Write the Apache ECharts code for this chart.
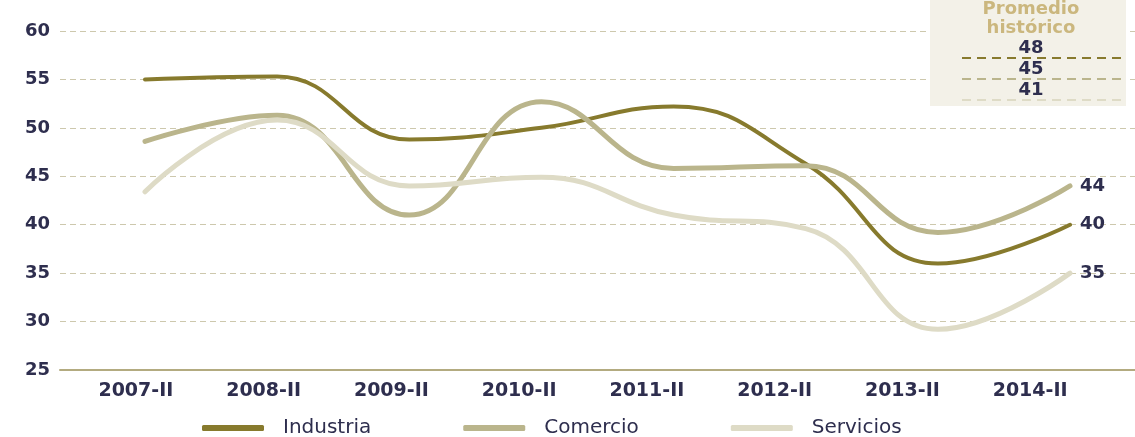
<!DOCTYPE html>
<html>
<head>
<meta charset="utf-8">
<script src="https://cdn.jsdelivr.net/npm/echarts@6/dist/echarts.min.js"></script>
<style>
  html, body { margin: 0; padding: 0; background: #fff; }
  #main { width: 1135px; height: 437px; }
</style>
</head>
<body>
<div id="main"></div>
<script>
// etiquetas del eje x
var periodos = ['2007-II', '2008-II', '2009-II', '2010-II', '2011-II', '2012-II', '2013-II', '2014-II'];
var industria = [55.0, 55.3, 48.8, 50.0, 52.2, 46.3, 36.0, 40];
var comercio  = [48.6, 51.3, 41.0, 52.7, 45.8, 46.1, 39.2, 44];
var servicios = [43.4, 50.8, 44.0, 44.9, 41.0, 39.6, 29.2, 35];
// promedio histórico
var promedioHist = [48, 45, 41];

var colores = ['#877a2d', '#bab58c', '#dedbc6'];
var txtColor = '#2e2e4e';
var fuente = 'DejaVu Sans';

var chart = echarts.init(document.getElementById('main'));

// recuadro del promedio histórico
var graficos = [
  { type: 'rect', shape: { x: 930, y: 0, width: 196, height: 106 }, style: { fill: '#f3f1e8' }, z: 10 },
  { type: 'text', style: { x: 1031, y: 0, text: 'Promedio\nhistórico', align: 'center',
      font: 'bold 18px "DejaVu Sans"', fill: '#cbb77e', lineHeight: 19 }, z: 11 }
];
for (var i = 0; i < promedioHist.length; i++) {
  graficos.push({ type: 'text', style: { x: 1031, y: 39 + i * 21, text: String(promedioHist[i]), align: 'center',
      font: 'bold 18px "DejaVu Sans"', fill: txtColor }, z: 11 });
  graficos.push({ type: 'line', shape: { x1: 962, y1: 58 + i * 21, x2: 1122, y2: 58 + i * 21 },
      style: { stroke: colores[i], lineWidth: 2, lineDash: [9, 6] }, z: 11 });
}

function serie(nombre, datos, color, ancho) {
  return {
    name: nombre,
    type: 'line',
    xAxisIndex: 2,
    yAxisIndex: 2,
    smooth: 0.45,
    symbol: 'none',
    data: datos,
    lineStyle: { color: color, width: ancho, cap: 'round' },
    itemStyle: { color: color },
    endLabel: {
      show: true,
      formatter: '{c}',
      color: txtColor,
      fontFamily: fuente,
      fontWeight: 'bold',
      fontSize: 18,
      distance: 10
    }
  };
}

chart.setOption({
  animation: false,
  backgroundColor: '#ffffff',
  grid: [
    { left: 60, right: 0, top: 31, bottom: 67 },
    { left: 72, right: 41, top: 31, bottom: 67 },
    { left: 145, right: 65, top: 31, bottom: 67 }
  ],
  legend: {
    top: 413,
    left: 197,
    itemWidth: 62,
    itemHeight: 6,
    itemGap: 92,
    icon: 'roundRect',
    textStyle: { color: txtColor, fontFamily: fuente, fontSize: 20, padding: [0, 0, 0, 14] },
    data: ['Industria', 'Comercio', 'Servicios']
  },
  xAxis: [
    { gridIndex: 0, type: 'category', data: periodos, boundaryGap: true,
      axisLine: { lineStyle: { color: '#b3ab80', width: 2 } },
      axisTick: { show: false }, axisLabel: { show: false } },
    { gridIndex: 1, type: 'category', data: periodos, boundaryGap: true,
      axisLine: { show: false }, axisTick: { show: false },
      axisLabel: { color: txtColor, fontFamily: fuente, fontWeight: 'bold', fontSize: 19, margin: 12 } },
    { gridIndex: 2, type: 'category', data: periodos, boundaryGap: false, show: false }
  ],
  yAxis: [
    { gridIndex: 0, type: 'value', min: 25, max: 60, interval: 5,
      axisLine: { show: false }, axisTick: { show: false },
      axisLabel: { color: txtColor, fontFamily: fuente, fontWeight: 'bold', fontSize: 18, margin: 10 },
      splitLine: { lineStyle: { color: '#cdc8ad', type: [6, 4], width: 1 } } },
    { gridIndex: 1, type: 'value', min: 25, max: 60, show: false },
    { gridIndex: 2, type: 'value', min: 25, max: 60, show: false }
  ],
  series: [
    serie('Industria', industria, colores[0], 4),
    serie('Comercio', comercio, colores[1], 5),
    serie('Servicios', servicios, colores[2], 5)
  ],
  graphic: graficos
});
</script>
</body>
</html>
